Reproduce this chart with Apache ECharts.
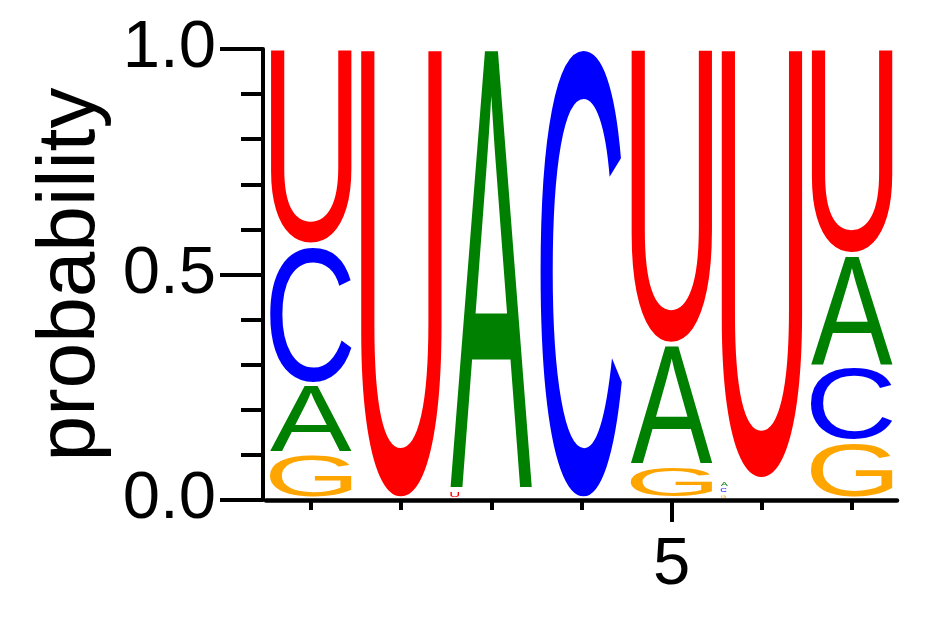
<!DOCTYPE html>
<html>
<head>
<meta charset="utf-8">
<script src="https://cdn.jsdelivr.net/npm/echarts@6/dist/echarts.min.js"></script>
<style>
  html, body { margin: 0; padding: 0; background: #fff; }
  #logo { width: 942px; height: 617px; }
</style>
</head>
<body>
<div id="logo"></div>
<script>
const positions = [1, 2, 3, 4, 5, 6, 7]
const letters = ['A', 'C', 'G', 'U']
const probA = [0.155, 0, 0.979, 0, 0.269, 0.017, 0.248]
const probC = [0.308, 0, 0, 1.0, 0, 0.014, 0.167]
const probG = [0.100, 0, 0, 0, 0.074, 0.012, 0.127]
const probU = [0.437, 1.0, 0.021, 0, 0.657, 0.957, 0.458]
const yTicks = [0, 0.5, 1]
const xLabels = [5]

const letterColors = { A: '#008000', C: '#0000ff', G: '#ffa500', U: '#ff0000' }
const glyphFont = '100px "Liberation Sans"'
const labelFont = 'Liberation Sans'

// measure glyph ink boxes so each letter can be stretched to fill its slot
const ctx = document.createElement('canvas').getContext('2d')
ctx.font = glyphFont
ctx.textBaseline = 'middle'
ctx.textAlign = 'center'
const glyphBox = {}
letters.forEach(function (l) {
  const m = ctx.measureText(l)
  glyphBox[l] = {
    left: m.actualBoundingBoxLeft,
    right: m.actualBoundingBoxRight,
    ascent: m.actualBoundingBoxAscent,
    descent: m.actualBoundingBoxDescent
  }
})

// stack the letters of each column, smallest at the bottom
const probs = [probA, probC, probG, probU]
const stackData = []
positions.forEach(function (pos, i) {
  const col = letters.map(function (l, k) { return { k: k, p: probs[k][i] } })
    .filter(function (d) { return d.p > 0 })
    .sort(function (a, b) { return a.p - b.p })
  let base = 0
  col.forEach(function (d) {
    stackData.push([pos, base, base + d.p, d.k])
    base += d.p
  })
})

function renderLetter (params, api) {
  const pos = api.value(0)
  const l = letters[api.value(3)]
  const tl = api.coord([pos - 0.455, api.value(2)])
  const br = api.coord([pos + 0.455, api.value(1)])
  const h = br[1] - tl[1]
  const yTop = tl[1] + Math.min(1, h * 0.1)
  const yBot = br[1] - Math.min(3.5, h * 0.35)
  const gh = yBot - yTop
  let x0 = tl[0]
  let x1 = br[0]
  if (gh < 8) x1 = x0 + Math.min(x1 - x0, gh * 1.7)
  const b = glyphBox[l]
  const sx = (x1 - x0) / (b.left + b.right)
  const sy = gh / (b.ascent + b.descent)
  return {
    type: 'text',
    x: x0 + b.left * sx,
    y: yTop + b.ascent * sy,
    scaleX: sx,
    scaleY: sy,
    style: {
      text: l,
      x: 0,
      y: 0,
      font: glyphFont,
      fill: letterColors[l],
      align: 'center',
      verticalAlign: 'middle'
    }
  }
}

const chart = echarts.init(document.getElementById('logo'))
chart.setOption({
  animation: false,
  backgroundColor: '#fff',
  grid: { left: 266, right: 45, top: 49, bottom: 117, outerBoundsMode: 'none' },
  xAxis: [{
    type: 'value',
    min: 0.5,
    max: 7.5,
    splitLine: { show: false },
    axisLine: { show: true, lineStyle: { color: '#000', width: 4.5 } },
    axisTick: { show: true, customValues: positions, length: 10, lineStyle: { color: '#000', width: 4 } },
    axisLabel: {
      customValues: xLabels,
      margin: 32,
      color: '#000',
      fontSize: 67,
      fontFamily: labelFont
    }
  }, {
    type: 'value',
    min: 0.5,
    max: 7.5,
    position: 'bottom',
    splitLine: { show: false },
    axisLine: { show: false },
    axisTick: { show: true, customValues: xLabels, length: 22, lineStyle: { color: '#000', width: 4 } },
    axisLabel: { show: false }
  }],
  yAxis: {
    type: 'value',
    min: 0,
    max: 1,
    interval: 0.5,
    offset: 3,
    name: 'probability',
    nameLocation: 'middle',
    nameGap: 150,
    nameTextStyle: { color: '#000', fontSize: 82, fontFamily: labelFont },
    splitLine: { show: false },
    axisLine: { show: true, lineStyle: { color: '#000', width: 4 } },
    axisTick: { show: true, customValues: yTicks, length: 43, lineStyle: { color: '#000', width: 4 } },
    minorTick: { show: true, splitNumber: 5, length: 22, lineStyle: { color: '#000', width: 4 } },
    axisLabel: {
      margin: 47,
      color: '#000',
      fontSize: 67,
      fontFamily: labelFont,
      formatter: function (v) { return v.toFixed(1) }
    }
  },
  series: [{
    type: 'custom',
    xAxisIndex: 0,
    renderItem: renderLetter,
    data: stackData
  }]
})
</script>
</body>
</html>
